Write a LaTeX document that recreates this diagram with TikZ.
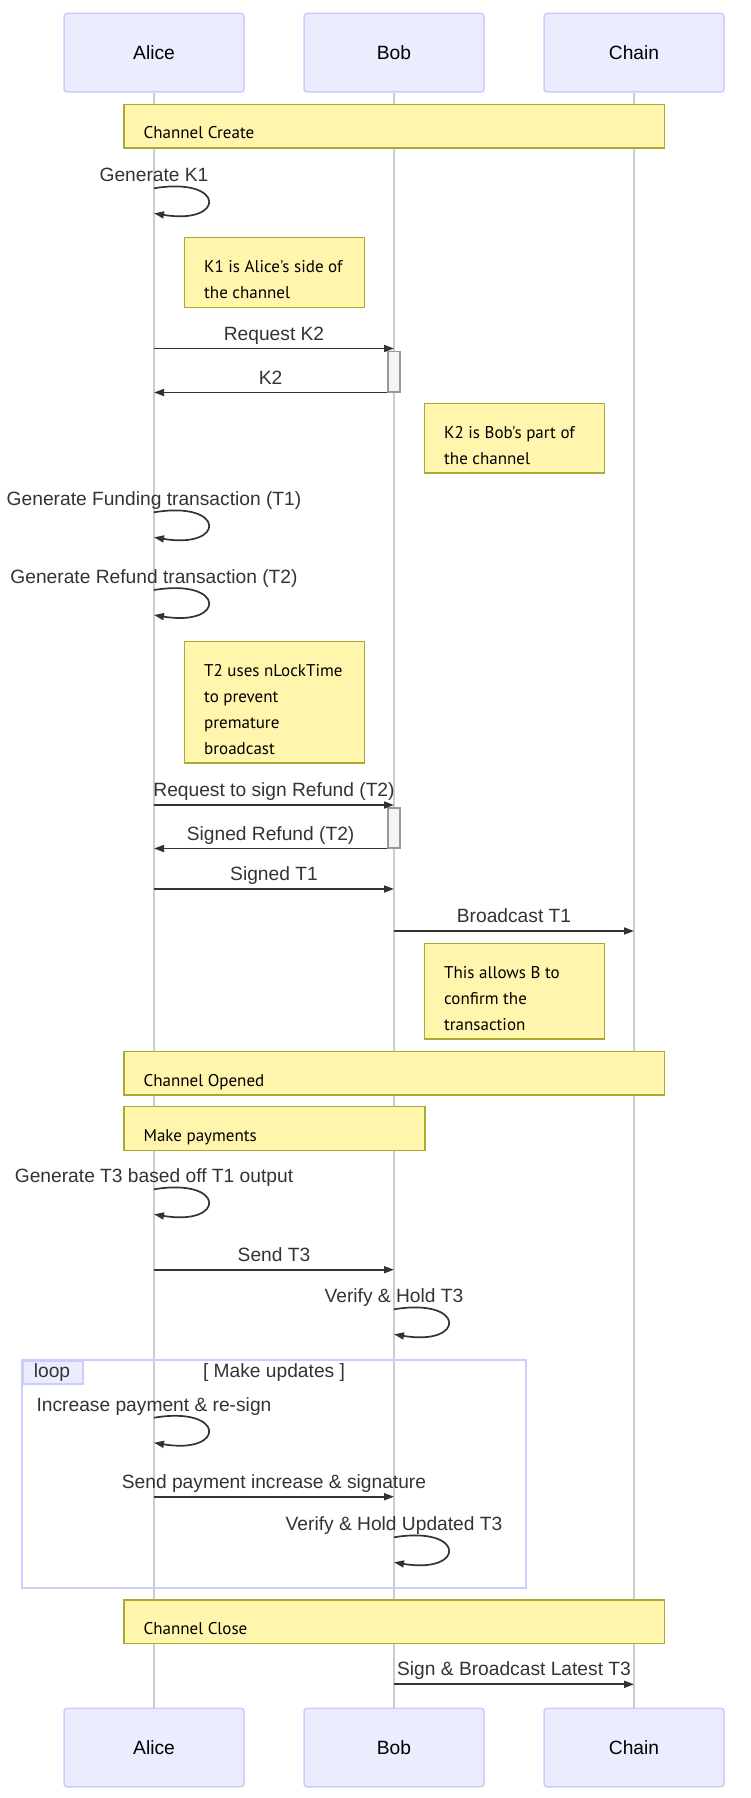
\documentclass[tikz,border=0pt]{standalone}
\usepackage{fontspec}
\setmainfont{Liberation Sans}
\newfontfamily\notefont{PT Sans}
\usetikzlibrary{arrows.meta}
\definecolor{actorfill}{HTML}{ECECFF}
\definecolor{actorline}{HTML}{CCCCFF}
\definecolor{notefill}{HTML}{FFF5AD}
\definecolor{noteline}{HTML}{AAAA33}
\definecolor{msgcol}{HTML}{333333}
\definecolor{lifecol}{HTML}{CCCCCC}
\definecolor{actfill}{HTML}{F4F4F4}
\definecolor{actline}{HTML}{999999}
\newcommand{\msgsize}{\fontsize{19.2pt}{23pt}\selectfont}
\newcommand{\notesize}{\notefont\fontsize{17pt}{26pt}\selectfont}

\begin{document}
\begin{tikzpicture}[x=1pt, y=-1pt,
  actor/.style={draw=actorline, fill=actorfill, line width=1.5pt, rounded corners=3pt,
    minimum width=180pt, minimum height=78.5pt, font=\msgsize},
  lifeline/.style={draw=lifecol, line width=1.5pt},
  note/.style={draw=noteline, fill=notefill, line width=1.3pt, inner sep=0pt, anchor=north west},
  notetxt/.style={anchor=base west, align=left, inner sep=0pt, font=\notesize},
  msg/.style={draw=msgcol, line width=1.7pt, -{Triangle[length=10pt,width=7pt]}},
  lbl/.style={anchor=base, inner sep=0pt, font=\msgsize, text=msgcol},
  msglbl/.style={lbl, yshift=8.4pt},
  looplbl/.style={lbl, yshift=6.5pt},
  activ/.style={draw=actline, fill=actfill, line width=1.5pt, minimum width=12pt, inner sep=0pt, anchor=north},
  loopframe/.style={draw=actorline, line width=2pt}]
\useasboundingbox (0,0) rectangle (750,1798);

% Actors
\node[actor] (alice) at (154,52.7) {Alice};
\node[actor] (bob) at (394,52.7) {Bob};
\node[actor] (chain) at (634,52.7) {Chain};
\node[actor] (aliceB) at (154,1747.5) {Alice};
\node[actor] (bobB) at (394,1747.5) {Bob};
\node[actor] (chainB) at (634,1747.5) {Chain};

% Lifelines
\draw[lifeline] (alice) -- (aliceB);
\draw[lifeline] (bob) -- (bobB);
\draw[lifeline] (chain) -- (chainB);

% Channel create
\node[note, minimum width=540.5pt, minimum height=43.6pt] (create) at (123.4,103.7) {};
\node[notetxt] (createT) at ([xshift=20pt,yshift=-35.3pt]create.north west) {Channel Create};
\draw[msg] (alice |- 0,188.3) node[looplbl] (genK) {Generate K1} .. controls +(72,-12) and +(72,12) .. (alice |- 0,213.3);
% (base of a multi-line note is its last line)
\node[note, minimum width=180pt, minimum height=69.6pt] (kOne) at (184,237) {};
\node[notetxt] (kOneT) at ([xshift=20pt,yshift=-61.3pt]kOne.north west) {K1 is Alice's side of\\the channel};
\node[activ, minimum height=40.3pt] (actK) at (394,350.7) {};
\draw[msg] (alice |- 0,348.5) -- node[msglbl] (reqK) {Request K2} (bob |- 0,348.5);
\draw[msg] (actK.south west) -- node[msglbl] (retK) {K2} (alice |- actK.south west);
\node[note, minimum width=180pt, minimum height=69.6pt] (kTwo) at (424,402.7) {};
\node[notetxt] (kTwoT) at ([xshift=20pt,yshift=-61.3pt]kTwo.north west) {K2 is Bob's part of\\the channel};
\draw[msg] (alice |- 0,512.3) node[looplbl] (genF) {Generate Funding transaction (T1)} .. controls +(72,-12) and +(72,12) .. (alice |- 0,537.3);
\draw[msg] (alice |- 0,590) node[looplbl] (genR) {Generate Refund transaction (T2)} .. controls +(72,-12) and +(72,12) .. (alice |- 0,615);
\node[note, minimum width=180pt, minimum height=121.6pt] (tTwo) at (184,640.7) {};
\node[notetxt] (tTwoT) at ([xshift=20pt,yshift=-113.3pt]tTwo.north west) {T2 uses nLockTime\\to prevent\\premature\\broadcast};
\node[activ, minimum height=40pt] (actR) at (394,807) {};
\draw[msg] (alice |- 0,805) -- node[msglbl] (reqR) {Request to sign Refund (T2)} (bob |- 0,805);
\draw[msg] (actR.south west) -- node[msglbl] (retR) {Signed Refund (T2)} (alice |- actR.south west);
\draw[msg] (alice |- 0,889) -- node[msglbl] (sigT) {Signed T1} (bob |- 0,889);
\draw[msg] (bob |- 0,931) -- node[msglbl] (bcT) {Broadcast T1} (chain |- 0,931);
\node[note, minimum width=180pt, minimum height=95.6pt] (allows) at (424,942.7) {};
\node[notetxt] (allowsT) at ([xshift=20pt,yshift=-87.3pt]allows.north west) {This allows B to\\confirm the\\transaction};

% Channel opened
\node[note, minimum width=540.5pt, minimum height=43.6pt] (opened) at (123.4,1050.7) {};
\node[notetxt] (openedT) at ([xshift=20pt,yshift=-35.3pt]opened.north west) {Channel Opened};
\node[note, minimum width=300.9pt, minimum height=43.6pt] (pay) at (123.4,1106) {};
\node[notetxt] (payT) at ([xshift=20pt,yshift=-35.3pt]pay.north west) {Make payments};
\draw[msg] (alice |- 0,1189.3) node[looplbl] (genT) {Generate T3 based off T1 output} .. controls +(72,-12) and +(72,12) .. (alice |- 0,1214.3);
\draw[msg] (alice |- 0,1269.7) -- node[msglbl] (sendT) {Send T3} (bob |- 0,1269.7);
\draw[msg] (bob |- 0,1309.3) node[looplbl] (holdT) {Verify \& Hold T3} .. controls +(72,-12) and +(72,12) .. (bob |- 0,1334.3);

% Loop
\draw[loopframe] (22,1360) rectangle (526,1588);
\node[draw=actorline, fill=actorfill, line width=1.5pt, inner sep=0pt, anchor=north west,
  minimum width=60.3pt, minimum height=23.3pt] (loopbox) at (22,1360) {};
\node[lbl] (loopT) at (52,1377.7) {loop};
\node[lbl] (loopC) at (274,1377.7) {[ Make updates ]};
\draw[msg] (alice |- 0,1417.7) node[looplbl] (incP) {Increase payment \& re-sign} .. controls +(72,-12) and +(72,12) .. (alice |- 0,1442.7);
\draw[msg] (alice |- 0,1496.7) -- node[msglbl] (sendP) {Send payment increase \& signature} (bob |- 0,1496.7);
\draw[msg] (bob |- 0,1537.3) node[looplbl] (holdU) {Verify \& Hold Updated T3} .. controls +(72,-12) and +(72,12) .. (bob |- 0,1562.3);

% Channel close
\node[note, minimum width=540.5pt, minimum height=43.6pt] (close) at (123.4,1599.3) {};
\node[notetxt] (closeT) at ([xshift=20pt,yshift=-35.3pt]close.north west) {Channel Close};
\draw[msg] (bob |- 0,1684.3) -- node[msglbl] (bcL) {Sign \& Broadcast Latest T3} (chain |- 0,1684.3);
\end{tikzpicture}
\end{document}
